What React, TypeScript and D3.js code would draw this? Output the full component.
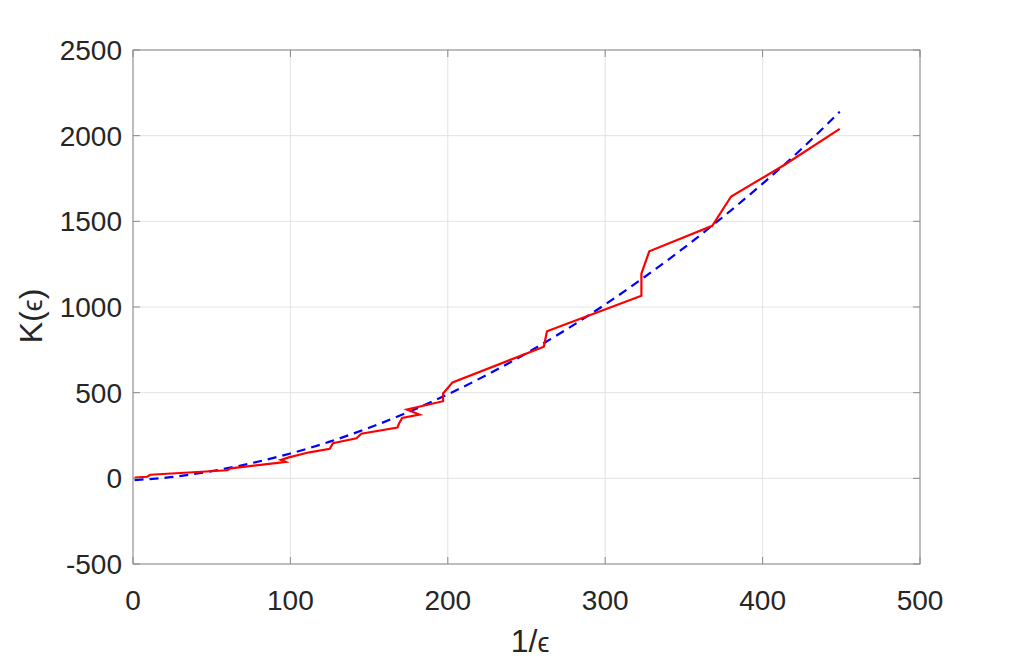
import React from "react";
import * as d3 from "d3";

const redX = [1, 9, 11, 60, 62, 92, 97, 94, 99, 112, 125, 127, 142, 145, 168, 169, 171, 182, 174, 197, 197, 203, 261, 263, 323, 323, 328, 368, 380, 414, 449];
const redY = [5, 9, 21, 47, 58, 90, 96, 108, 122, 152, 172, 205, 234, 260, 296, 320, 352, 372, 402, 450, 495, 560, 768, 858, 1066, 1195, 1325, 1474, 1645, 1830, 2040];

const blueX = [1, 25, 50, 75, 100, 125, 150, 175, 200, 225, 250, 275, 300, 325, 350, 375, 400, 425, 449];
const blueY = [-10, 8, 42, 88, 145, 214, 295, 387, 490, 605, 730, 867, 1015, 1175, 1345, 1527, 1720, 1925, 2140];

const xTicks = [0, 100, 200, 300, 400, 500];
const yTicks = [-500, 0, 500, 1000, 1500, 2000, 2500];

const W = 1017, H = 662;
const L = 133, R = 920, T = 50, B = 564;
const font = "'Liberation Sans', Arial, Helvetica, sans-serif";
const textColor = "#262626";

export default function App() {
  const x = d3.scaleLinear().domain([0, 500]).range([L, R]);
  const y = d3.scaleLinear().domain([-500, 2500]).range([B, T]);
  const red = redX.map((v, i) => [v, redY[i]] as [number, number]);
  const blue = blueX.map((v, i) => [v, blueY[i]] as [number, number]);
  const lineRed = d3.line<[number, number]>().x(d => x(d[0])).y(d => y(d[1]));
  const lineBlue = d3.line<[number, number]>().x(d => x(d[0])).y(d => y(d[1])).curve(d3.curveMonotoneX);
  const tick = 7;
  return (
    <svg width={W} height={H} style={{ position: "absolute", left: 0, top: 0, background: "#fff" }}>
      <rect x={0} y={0} width={W} height={H} fill="#fff" />
      {xTicks.map(t => (
        <line key={"gx" + t} x1={x(t)} x2={x(t)} y1={T} y2={B} stroke="#e3e3e3" strokeWidth={1} />
      ))}
      {yTicks.map(t => (
        <line key={"gy" + t} x1={L} x2={R} y1={y(t)} y2={y(t)} stroke="#e3e3e3" strokeWidth={1} />
      ))}
      <path d={lineBlue(blue) || ""} fill="none" stroke="#0000ff" strokeWidth={2.2} strokeDasharray="9,6" />
      <path d={lineRed(red) || ""} fill="none" stroke="#ff0000" strokeWidth={2.2} strokeLinejoin="miter" />
      <rect x={L} y={T} width={R - L} height={B - T} fill="none" stroke="#8a8a8a" strokeWidth={1} />
      {xTicks.map(t => (
        <g key={"tx" + t}>
          <line x1={x(t)} x2={x(t)} y1={B} y2={B - tick} stroke="#8a8a8a" />
          <line x1={x(t)} x2={x(t)} y1={T} y2={T + tick} stroke="#8a8a8a" />
          <text x={x(t)} y={610} textAnchor="middle" fontFamily={font} fontSize={28} fill={textColor}>{t}</text>
        </g>
      ))}
      {yTicks.map(t => (
        <g key={"ty" + t}>
          <line x1={L} x2={L + tick} y1={y(t)} y2={y(t)} stroke="#8a8a8a" />
          <line x1={R} x2={R - tick} y1={y(t)} y2={y(t)} stroke="#8a8a8a" />
          <text x={122} y={y(t) + 10} textAnchor="end" fontFamily={font} fontSize={28} fill={textColor}>{t}</text>
        </g>
      ))}
      <text x={530} y={652} textAnchor="middle" fontFamily={font} fontSize={32} fill={textColor}>
        1/<tspan fontSize={27}>ϵ</tspan>
      </text>
      <text transform={`translate(42, 316) rotate(-90)`} textAnchor="middle" fontFamily={font} fontSize={32} fill={textColor}>
        K(<tspan fontSize={27}>ϵ</tspan>)
      </text>
    </svg>
  );
}
